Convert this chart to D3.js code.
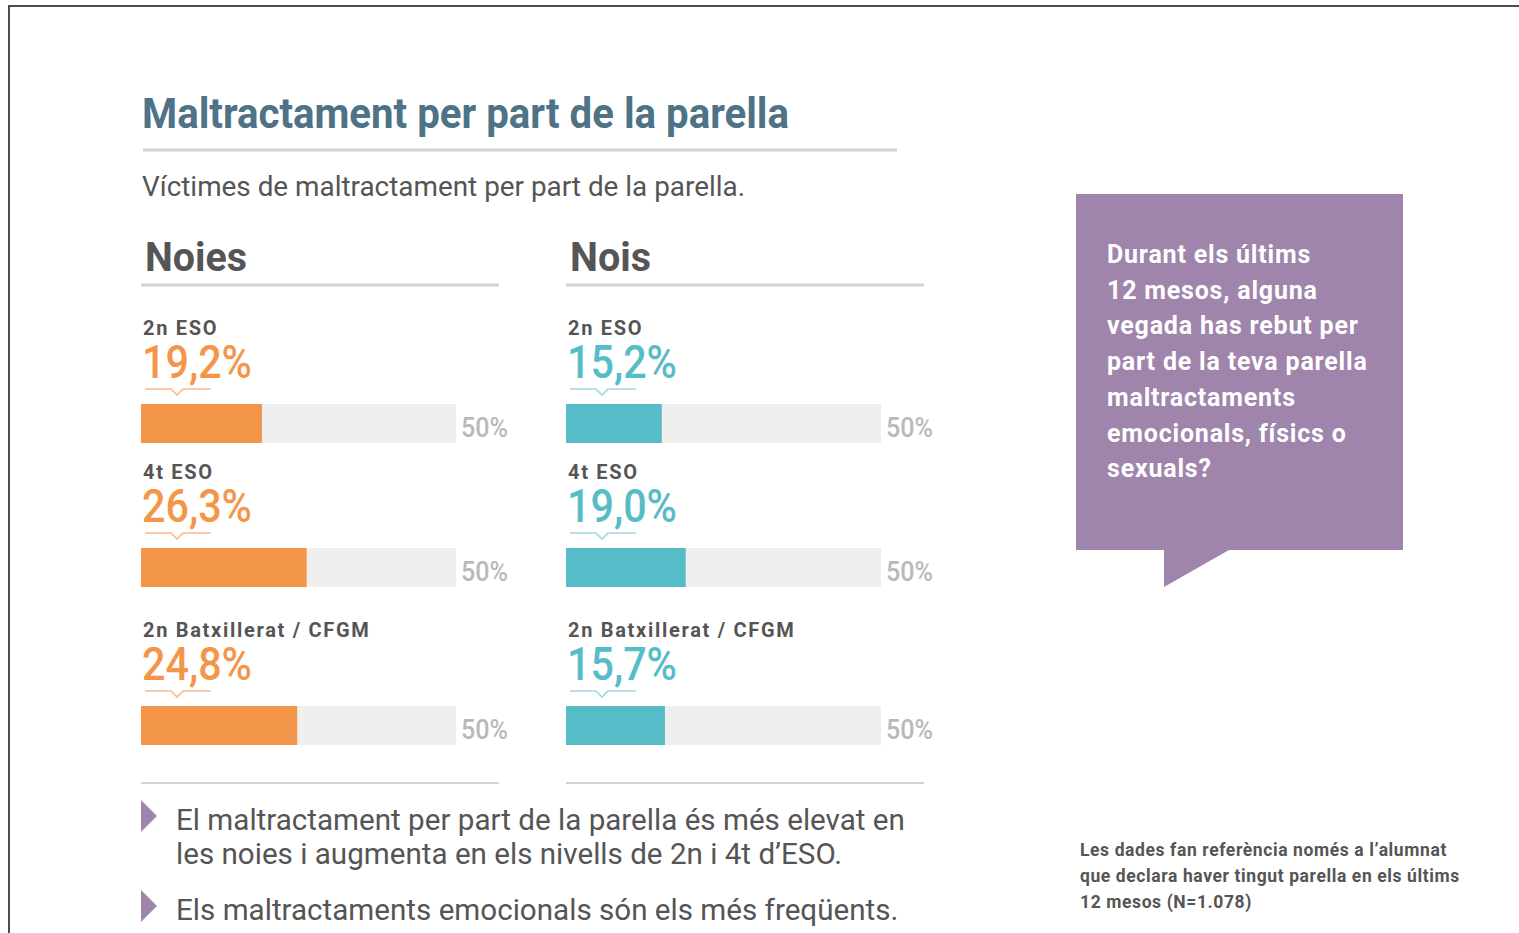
<!DOCTYPE html>
<html>
<head>
<meta charset="utf-8">
<script src="https://cdn.jsdelivr.net/npm/d3@7"></script>
<style>
  body { margin: 0; background: #fff; }
  text { font-family: Roboto, "Noto Sans", sans-serif; }
</style>
</head>
<body>
<div class="chart"></div>
<script>
// Data
var groups = ["Noies", "Nois"];
var levels = ["2n ESO", "4t ESO", "2n Batxillerat / CFGM"];
var noiesValues = [19.2, 26.3, 24.8];
var noisValues = [15.2, 19.0, 15.7];
var scaleMax = 50;
var questionLines = ["Durant els últims", "12 mesos, alguna", "vegada has rebut per",
  "part de la teva parella", "maltractaments", "emocionals, físics o", "sexuals?"];
var bulletLines = [
  ["El maltractament per part de la parella és més elevat en",
   "les noies i augmenta en els nivells de 2n i 4t d’ESO."],
  ["Els maltractaments emocionals són els més freqüents."]
];
var noteLines = ["Les dades fan referència només a l’alumnat",
  "que declara haver tingut parella en els últims", "12 mesos (N=1.078)"];

var svgWidth = 1519;
var svgHeight = 933;

var colors = { Noies: "#f4964a", Nois: "#56bcc8" };
var chevronColors = { Noies: "#f8bb8c", Nois: "#9fd8df" };
var headWidth = { Noies: 102, Nois: 81 };
var greyText = "#555555";

var svg = d3.select(".chart")
  .append("svg")
  .attr("width", svgWidth)
  .attr("height", svgHeight);

// Page frame
svg.append("path")
  .attr("d", `M9,${svgHeight} V6 H${svgWidth}`)
  .attr("fill", "none")
  .attr("stroke", "#4d4d4d")
  .attr("stroke-width", 2);

// squeeze a text to the width it has in the condensed original
function fit(sel, w) {
  sel.attr("textLength", w).attr("lengthAdjust", "spacingAndGlyphs");
}

// Title and subtitle
svg.append("text")
  .attr("x", 142).attr("y", 128)
  .attr("font-size", 42).attr("font-weight", 700)
  .attr("fill", "#4e7286")
  .text("Maltractament per part de la parella")
  .call(fit, 647);

svg.append("line")
  .attr("x1", 143).attr("x2", 897).attr("y1", 150).attr("y2", 150)
  .attr("stroke", "#d2d2d2").attr("stroke-width", 3);

svg.append("text")
  .attr("x", 142).attr("y", 196)
  .attr("font-size", 28)
  .attr("fill", greyText)
  .text("Víctimes de maltractament per part de la parella.")
  .call(fit, 603);

// Bar scale
var xScale = d3.scaleLinear()
  .domain([0, scaleMax])
  .range([0, 315]);

var rowTop = [404, 548, 706];
var barHeight = 39;
var colLeft = { Noies: 141, Nois: 566 };

groups.forEach(function(g) {
  var values = g === "Noies" ? noiesValues : noisValues;
  var col = svg.append("g")
    .attr("transform", `translate(${colLeft[g]}, 0)`);

  col.append("text")
    .attr("x", 4).attr("y", 271)
    .attr("font-size", 41).attr("font-weight", 700)
    .attr("fill", greyText)
    .text(g)
    .call(fit, headWidth[g]);

  col.append("line")
    .attr("x1", 0).attr("x2", 358).attr("y1", 285).attr("y2", 285)
    .attr("stroke", "#d2d2d2").attr("stroke-width", 3);

  col.append("line")
    .attr("x1", 0).attr("x2", 358).attr("y1", 783).attr("y2", 783)
    .attr("stroke", "#d2d2d2").attr("stroke-width", 2);

  var rows = col.selectAll("g.row")
    .data(values)
    .enter()
    .append("g")
    .attr("class", "row")
    .attr("transform", (d, i) => `translate(0, ${rowTop[i]})`);

  rows.append("text")
    .attr("x", 2).attr("y", -69)
    .attr("font-size", 20).attr("font-weight", 700)
    .attr("letter-spacing", 1.7)
    .attr("fill", greyText)
    .text((d, i) => levels[i]);

  rows.append("text")
    .attr("x", 1).attr("y", -26)
    .attr("font-size", 46).attr("font-weight", 500)
    .attr("fill", colors[g])
    .text(d => d.toFixed(1).replace(".", ",") + "%")
    .call(fit, 110);

  rows.append("path")
    .attr("d", "M4,-15 H30 L36,-9 L42,-15 H70")
    .attr("fill", "none")
    .attr("stroke", chevronColors[g])
    .attr("stroke-width", 1.6);

  rows.append("rect")
    .attr("x", 0).attr("y", 0)
    .attr("width", xScale(scaleMax))
    .attr("height", barHeight)
    .attr("fill", "#efefef");

  rows.append("rect")
    .attr("x", 0).attr("y", 0)
    .attr("width", d => xScale(d))
    .attr("height", barHeight)
    .attr("fill", colors[g]);

  rows.append("text")
    .attr("x", xScale(scaleMax) + 5).attr("y", 33)
    .attr("font-size", 27).attr("font-weight", 500)
    .attr("fill", "#b9b9b9")
    .text(scaleMax + "%")
    .call(fit, 47);
});

// Bullets
var bulletTop = [800, 890];
bulletLines.forEach(function(lines, i) {
  var y0 = bulletTop[i];
  svg.append("path")
    .attr("d", `M141,${y0} L157,${y0 + 16} L141,${y0 + 32} Z`)
    .attr("fill", "#9f85ab");
  svg.append("text")
    .attr("x", 176).attr("y", y0 + 30)
    .attr("font-size", 29.6)
    .attr("fill", greyText)
    .selectAll("tspan")
    .data(lines)
    .enter()
    .append("tspan")
    .attr("x", 176)
    .attr("dy", (d, j) => j === 0 ? 0 : 34)
    .text(d => d);
});

// Question box
svg.append("path")
  .attr("d", "M1076,194 H1403 V550 H1229 L1164,587 V550 H1076 Z")
  .attr("fill", "#9f85ab");

svg.append("text")
  .attr("x", 1107).attr("y", 263)
  .attr("font-size", 25).attr("font-weight", 700)
  .attr("letter-spacing", 0.8)
  .attr("fill", "#ffffff")
  .selectAll("tspan")
  .data(questionLines)
  .enter()
  .append("tspan")
  .attr("x", 1107)
  .attr("dy", (d, i) => i === 0 ? 0 : 35.7)
  .text(d => d);

// Footnote
svg.append("text")
  .attr("x", 1080).attr("y", 856)
  .attr("font-size", 17.5).attr("font-weight", 700)
  .attr("letter-spacing", 0.6)
  .attr("fill", greyText)
  .selectAll("tspan")
  .data(noteLines)
  .enter()
  .append("tspan")
  .attr("x", 1080)
  .attr("dy", (d, i) => i === 0 ? 0 : 26)
  .text(d => d);
</script>
</body>
</html>
